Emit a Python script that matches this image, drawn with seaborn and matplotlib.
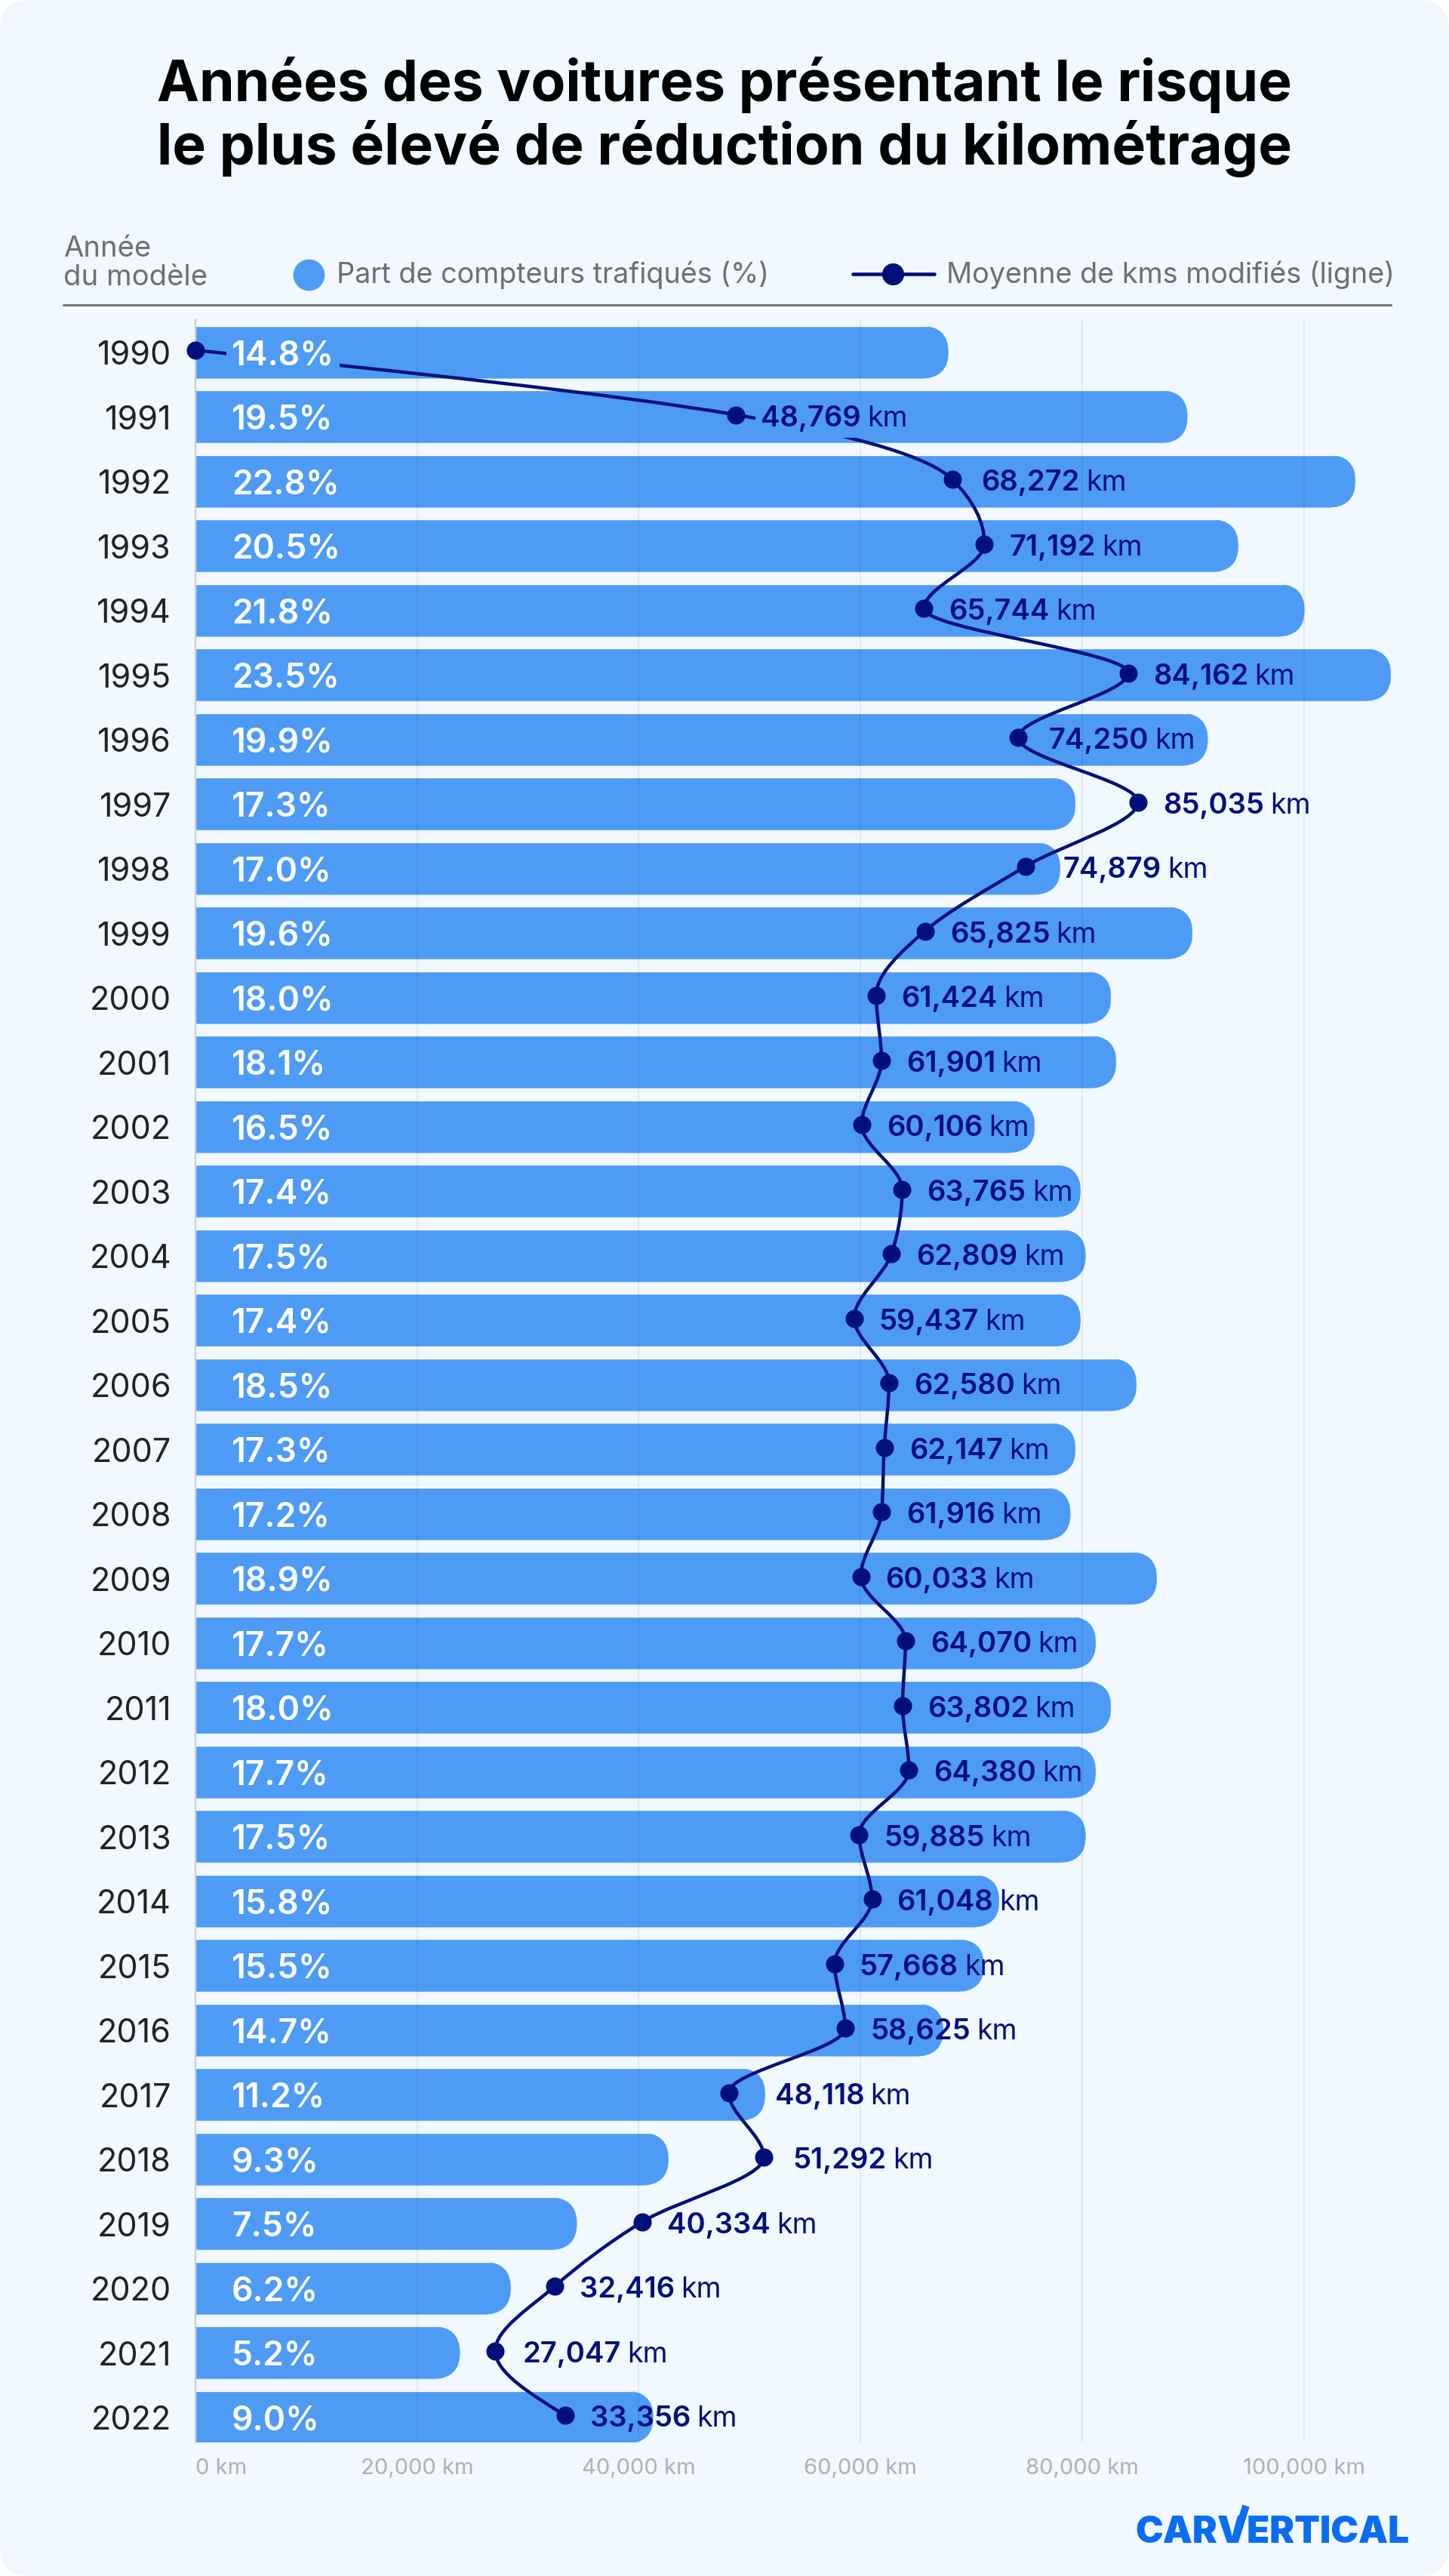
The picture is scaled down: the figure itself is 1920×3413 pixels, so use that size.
import numpy as np
import pandas as pd
import matplotlib
matplotlib.use('Agg')
import matplotlib.pyplot as plt
import seaborn as sns
from matplotlib.lines import Line2D
from matplotlib.patches import FancyBboxPatch, PathPatch
from matplotlib.path import Path
from matplotlib.transforms import ScaledTranslation

years = list(range(1990, 2023))
share_pct = [14.8, 19.5, 22.8, 20.5, 21.8, 23.5, 19.9, 17.3, 17.0, 19.6, 18.0,
             18.1, 16.5, 17.4, 17.5, 17.4, 18.5, 17.3, 17.2, 18.9, 17.7,
             18.0, 17.7, 17.5, 15.8, 15.5, 14.7, 11.2, 9.3, 7.5, 6.2, 5.2, 9.0]
avg_km = [0, 48769, 68272, 71192, 65744, 84162, 74250, 85035, 74879, 65825, 61424,
          61901, 60106, 63765, 62809, 59437, 62580, 62147, 61916, 60033, 64070,
          63802, 64380, 59885, 61048, 57668, 58625, 48118, 51292, 40334, 32416, 27047, 33356]
km_ticks = [0, 20000, 40000, 60000, 80000, 100000]

# extra gap between point and km label (px) where the original moved it
label_nudge = {1992: 6, 1996: 7, 1998: 17, 2017: 28, 2018: 5, 2021: 3}

W, H = 1920, 3413
BAR = '#4d9bf5'
NAVY = '#00107a'
BG = '#f1f8ff'
GREY = '#6f6f6f'


def fx(x):
    return x / W


def fy(y):
    return 1 - y / H


def monotone_path(xs, ys):
    # cubic path monotone along y, same tangents as d3 curveMonotoneY
    xs = np.asarray(xs, dtype=float)
    ys = np.asarray(ys, dtype=float)
    s = np.diff(xs) / np.diff(ys)
    m = np.zeros(len(xs))
    for i in range(1, len(xs) - 1):
        if s[i - 1] * s[i] > 0:
            m[i] = np.sign(s[i]) * 2 * min(abs(s[i - 1]), abs(s[i]), 0.25 * abs(s[i - 1] + s[i]))
    m[0] = (3 * s[0] - m[1]) / 2
    m[-1] = (3 * s[-1] - m[-2]) / 2
    verts = [(xs[0], ys[0])]
    codes = [Path.MOVETO]
    for i in range(len(xs) - 1):
        h = ys[i + 1] - ys[i]
        verts += [(xs[i] + m[i] * h / 3, ys[i] + h / 3),
                  (xs[i + 1] - m[i + 1] * h / 3, ys[i + 1] - h / 3),
                  (xs[i + 1], ys[i + 1])]
        codes += [Path.CURVE4] * 3
    return Path(verts, codes)


sns.set_theme(style='white')
plt.rcParams['font.family'] = ['Inter', 'DejaVu Sans']

fig = plt.figure(figsize=(W / 100, H / 100), dpi=100, facecolor='white')
fig.add_artist(FancyBboxPatch((0, 0), 1, 1, boxstyle=f"round,pad=0,rounding_size={40 / W}",
                              mutation_aspect=W / H, transform=fig.transFigure,
                              fc=BG, ec='none', zorder=-5))

# plot area in pixels: x 259-1850, y 423-3236
ax = fig.add_axes([fx(259), fy(3236), (1850 - 259) / W, (3236 - 423) / H])
ax.patch.set_alpha(0)
Y_RANGE = (2022.42, 1989.52)

df = pd.DataFrame({'year': years, 'share': share_pct, 'km': avg_km})
sns.barplot(data=df, x='share', y='year', orient='y', native_scale=True, color=BAR,
            saturation=1, width=0.82, ax=ax)
ax.set_xlim(0, 23.6)
ax.set_ylim(*Y_RANGE)
ax.set_xlabel('')
ax.set_ylabel('')
ax.set_xticks([])
ax.set_yticks(years)
ax.set_yticklabels([str(y) for y in years], fontsize=31, color='#222222')
ax.tick_params(axis='y', length=0, pad=23)
down3px = ScaledTranslation(0, -3 / 100, fig.dpi_scale_trans)
for lab in ax.get_yticklabels():
    lab.set_transform(lab.get_transform() + down3px)
sns.despine(ax=ax, left=True, bottom=True)

# round the right end of each bar, bars sit a touch under the points
for bar in ax.patches:
    bar.set_y(bar.get_y() + 0.03)
    x0, y0 = bar.get_xy()
    clip = FancyBboxPatch((x0 - 2, y0), bar.get_width() + 2, bar.get_height(),
                          boxstyle="round,pad=0,rounding_size=0.55",
                          mutation_aspect=0.41 / 0.55, transform=ax.transData)
    bar.set_clip_path(clip)

# km scale on a second axis over the bars
ax_km = ax.twiny()
ax_km.set_xlim(0, 108340)
ax_km.xaxis.set_ticks_position('bottom')
ax_km.set_xticks(km_ticks)
ax_km.set_xticklabels([f"{k:,} km" for k in km_ticks], fontsize=21, color='#b0b0b0')
ax_km.get_xticklabels()[0].set_ha('left')
ax_km.tick_params(axis='x', length=0, pad=15)
ax_km.grid(axis='x', color='black', alpha=0.06, lw=1.5)
for name, spine in ax_km.spines.items():
    spine.set_visible(name == 'left')
ax_km.spines['left'].set_color('#c8cfd6')
ax_km.spines['left'].set_linewidth(1.5)

ax_km.add_patch(PathPatch(monotone_path(avg_km, years), fc='none', ec=NAVY, lw=3.2, zorder=3))
sns.scatterplot(data=df, x='km', y='year', color=NAVY, s=300, linewidth=0, clip_on=False,
                zorder=4, legend=False, ax=ax_km)
ax_km.set_xlabel('')
ax_km.set_ylabel('')
ax_km.set_xlim(0, 108340)
ax_km.set_ylim(*Y_RANGE)

for year, share, km in zip(years, share_pct, avg_km):
    # the labels of 1990 and 1991 sit on a patch that cuts the line
    box = dict(fc=BAR, ec='none', pad=5) if year == 1990 else None
    ax_km.annotate(f"{share:.1f}%", (0, year), xytext=(48 * 0.72, -2), textcoords='offset points',
                   va='center_baseline', ha='left', fontsize=32, fontweight='semibold', color='white', zorder=5,
                   bbox=box)
    if km == 0:
        continue
    box = dict(fc=BAR, ec='none', pad=5) if year == 1991 else None
    off = (33 + label_nudge.get(year, 0)) * 0.72
    num = ax_km.annotate(f"{km:,}", (km, year), xytext=(off, -1), textcoords='offset points',
                         va='center_baseline', ha='left', fontsize=27.5, fontweight='semibold', color=NAVY,
                         zorder=6, bbox=box)
    ax_km.annotate("km", xy=(1, 0), xycoords=num, xytext=(6, 0), textcoords='offset points',
                   va='bottom', ha='left', fontsize=27, color=NAVY, zorder=6)

fig.text(0.5, fy(155), "Années des voitures présentant le risque\nle plus élevé de réduction du kilométrage",
         ha='center', va='center', fontsize=54, fontweight='bold', color='black', linespacing=1.15)

# header row
fig.text(fx(84), fy(349), "Année\ndu modèle", ha='left', va='center', fontsize=27.5, color=GREY, linespacing=1.1)
fig.add_artist(Line2D([fx(409)], [fy(364)], marker='o', ms=30, color=BAR, mew=0, ls='none'))
fig.text(fx(446), fy(364), "Part de compteurs trafiqués (%)", ha='left', va='center', fontsize=27.2, color=GREY)
fig.add_artist(Line2D([fx(1130), fx(1238)], [fy(363), fy(363)], color=NAVY, lw=3.4))
fig.add_artist(Line2D([fx(1183)], [fy(363)], marker='o', ms=21, color=NAVY, mew=0, ls='none'))
fig.text(fx(1254), fy(364), "Moyenne de kms modifiés (ligne)", ha='left', va='center', fontsize=27.2, color=GREY)
fig.add_artist(Line2D([fx(84), fx(1843)], [fy(404), fy(404)], color='#777777', lw=2.2))

# logo
LOGO = '#0a6cf0'
fig.text(fx(1504), fy(3369), "CARVERTICAL", ha='left', va='baseline', fontsize=35.5, fontweight='black', color=LOGO)
fig.add_artist(Line2D([fx(1636), fx(1651)], [fy(3368), fy(3320)], color=LOGO, lw=7, solid_capstyle='butt'))

fig.savefig('out.png', dpi=100, facecolor=fig.get_facecolor())
